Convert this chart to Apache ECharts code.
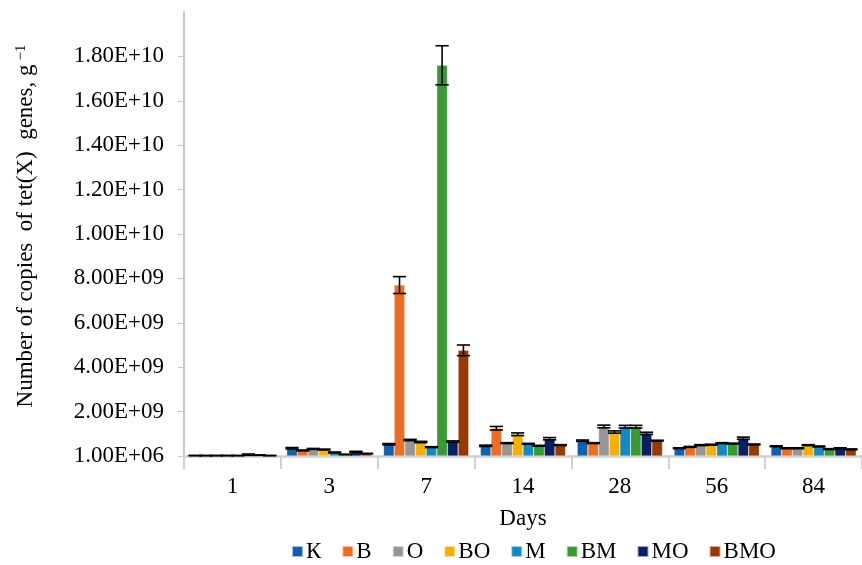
<!DOCTYPE html>
<html><head><meta charset="utf-8">
<script src="https://cdn.jsdelivr.net/npm/echarts@6/dist/echarts.min.js"></script>
<style>html,body{margin:0;padding:0;background:#fff}#c{width:862px;height:565px}</style>
</head><body><div id="c"></div>
<script>
const categories = ['1','3','7','14','28','56','84'];
const seriesNames = ['К','В','О','ВО','М','ВМ','МО','ВМО'];
const colors = ['#1060B0','#ED6D21','#969696','#F5B000','#1589C4','#379A33','#0A1E62','#993800'];
const valK   = [0.02e9, 0.35e9, 0.53e9, 0.46e9, 0.69e9, 0.35e9, 0.44e9];
const valB   = [0.02e9, 0.25e9, 7.70e9, 1.25e9, 0.58e9, 0.41e9, 0.35e9];
const valO   = [0.02e9, 0.32e9, 0.72e9, 0.58e9, 1.33e9, 0.49e9, 0.35e9];
const valBO  = [0.02e9, 0.29e9, 0.63e9, 0.98e9, 1.08e9, 0.51e9, 0.49e9];
const valM   = [0.02e9, 0.16e9, 0.40e9, 0.55e9, 1.32e9, 0.58e9, 0.43e9];
const valBM  = [0.06e9, 0.07e9, 17.6e9, 0.46e9, 1.32e9, 0.56e9, 0.31e9];
const valMO  = [0.04e9, 0.19e9, 0.65e9, 0.78e9, 1.02e9, 0.80e9, 0.35e9];
const valBMO = [0.02e9, 0.11e9, 4.76e9, 0.49e9, 0.69e9, 0.52e9, 0.30e9];
const errK   = [0.005e9, 0.03e9, 0.03e9, 0.03e9, 0.03e9, 0.02e9, 0.02e9];
const errB   = [0.005e9, 0.02e9, 0.38e9, 0.08e9, 0.02e9, 0.02e9, 0.02e9];
const errO   = [0.005e9, 0.02e9, 0.03e9, 0.02e9, 0.06e9, 0.02e9, 0.02e9];
const errBO  = [0.005e9, 0.02e9, 0.03e9, 0.06e9, 0.05e9, 0.02e9, 0.02e9];
const errM   = [0.005e9, 0.02e9, 0.02e9, 0.02e9, 0.06e9, 0.02e9, 0.02e9];
const errBM  = [0.03e9, 0.01e9, 0.88e9, 0.02e9, 0.06e9, 0.02e9, 0.02e9];
const errMO  = [0.01e9, 0.02e9, 0.03e9, 0.05e9, 0.05e9, 0.05e9, 0.02e9];
const errBMO = [0.005e9, 0.01e9, 0.24e9, 0.02e9, 0.02e9, 0.02e9, 0.02e9];
const yTicks = [0, 2e9, 4e9, 6e9, 8e9, 1e10, 1.2e10, 1.4e10, 1.6e10, 1.8e10];

const values = [valK, valB, valO, valBO, valM, valBM, valMO, valBMO];
const errors = [errK, errB, errO, errBO, errM, errBM, errMO, errBMO];
const FONT = '"Liberation Serif", "Times New Roman", serif';
const GAP = 0.12;
const N = seriesNames.length;

function fmt(v) {
  if (v === 0) return '1.00E+06';
  const e = Math.floor(Math.log10(v));
  const m = v / Math.pow(10, e);
  return m.toFixed(2) + 'E+' + (e < 10 ? '0' + e : e);
}

const series = [];
seriesNames.forEach((name, i) => {
  series.push({
    name, type: 'bar', data: values[i], barGap: '0%', barCategoryGap: (GAP * 100) + '%',
    itemStyle: { color: colors[i], borderColor: 'rgba(255,255,255,0.6)', borderWidth: 0.5 },
    emphasis: { disabled: true }, z: 2
  });
});
seriesNames.forEach((name, i) => {
  series.push({
    type: 'custom', name: name + '_err', silent: true, z: 5,
    data: values[i].map((v, j) => [j, v, errors[i][j]]),
    renderItem: function (params, api) {
      const band = api.size([1, 0])[0];
      const bw = band * (1 - GAP) / N;
      const off = (i - (N - 1) / 2) * bw;
      const c = api.value(0), v = api.value(1), e = api.value(2);
      const top = api.coord([c, v + e]);
      const bot = api.coord([c, Math.max(0, v - e)]);
      const x = top[0] + off;
      const hw = bw * 0.62;
      const st = { stroke: '#000', lineWidth: 1.6 };
      return { type: 'group', children: [
        { type: 'line', shape: { x1: x, y1: top[1], x2: x, y2: bot[1] }, style: st },
        { type: 'line', shape: { x1: x - hw, y1: top[1], x2: x + hw, y2: top[1] }, style: st },
        { type: 'line', shape: { x1: x - hw, y1: bot[1], x2: x + hw, y2: bot[1] }, style: st }
      ]};
    }
  });
});

const chart = echarts.init(document.getElementById('c'), null, { renderer: 'canvas' });
chart.setOption({
  animation: false,
  backgroundColor: '#fff',
  textStyle: { fontFamily: FONT },
  grid: { left: 184, right: 0, top: 12, bottom: 109, containLabel: false },
  legend: {
    data: seriesNames, left: 291, top: 540, padding: 0, icon: 'rect', itemWidth: 11, itemHeight: 11, itemGap: 20,
    textStyle: { fontFamily: FONT, fontSize: 23, color: '#000', padding: [0, 0, 0, -2] }
  },
  xAxis: {
    type: 'category', data: categories,
    name: 'Days', nameLocation: 'middle', nameGap: 51,
    nameTextStyle: { fontFamily: FONT, fontSize: 23, color: '#000' },
    axisLine: { lineStyle: { color: '#D0D0D0', width: 2.5 } },
    axisTick: { show: true, length: 13, lineStyle: { color: '#D0D0D0', width: 2 } },
    axisLabel: { fontFamily: FONT, fontSize: 23, color: '#000', margin: 19 }
  },
  yAxis: {
    type: 'value', min: 0, max: 2e10, interval: 2e9,
    name: 'Number of copies  of tet(X)  genes, g{sup|−1}',
    nameLocation: 'middle', nameGap: 146, nameRotate: 90,
    nameTextStyle: { fontFamily: FONT, fontSize: 23, color: '#000', padding: [0, 0, 0, 16],
      rich: { sup: { fontFamily: FONT, fontSize: 15, color: '#000', verticalAlign: 'top', padding: [0, 0, 9, 4] } } },
    axisLine: { show: true, lineStyle: { color: '#C8C8C8', width: 2 } },
    axisTick: { show: true, length: 6, lineStyle: { color: '#C8C8C8', width: 1 }, customValues: yTicks },
    axisLabel: { fontFamily: FONT, fontSize: 23, color: '#000', margin: 20, formatter: fmt, customValues: yTicks },
    splitLine: { show: false }
  },
  series
});
</script></body></html>
